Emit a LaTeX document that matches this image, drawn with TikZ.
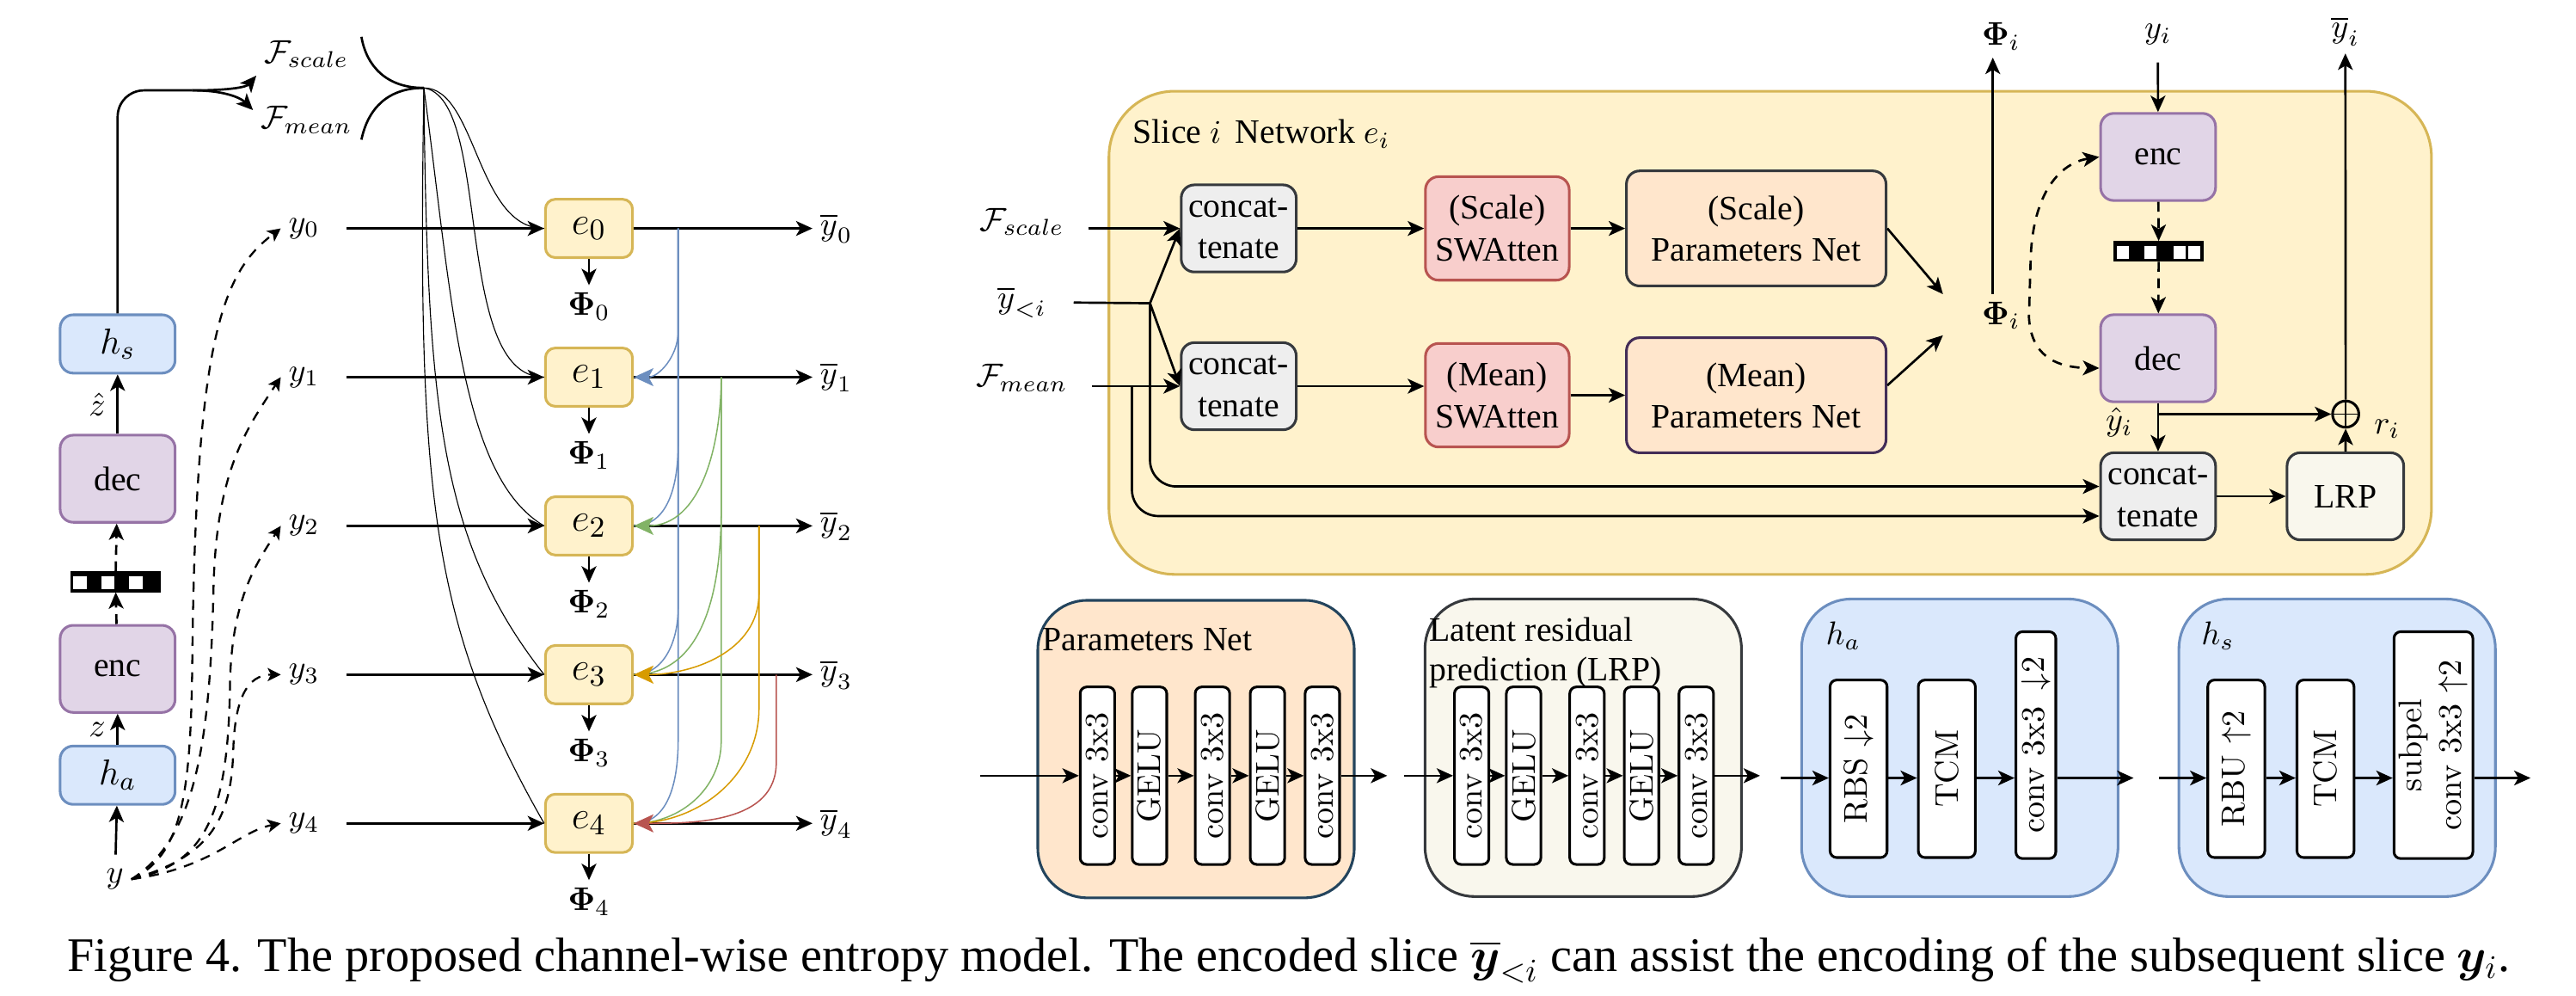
\documentclass[tikz,border=0pt]{standalone}
\usepackage{amsmath}
\usepackage{amssymb}
\usepackage{bm}
\usepackage{graphicx}
\usepackage{fontspec}
\newfontfamily\tnr{Liberation Serif}
\usepackage{tikz}
\usetikzlibrary{arrows.meta}
\usetikzlibrary{positioning}
\definecolor{yellowfill}{HTML}{FFF2CC}
\definecolor{yellowline}{HTML}{D6B656}
\definecolor{bluefill}{HTML}{DAE8FC}
\definecolor{blueline}{HTML}{6C8EBF}
\definecolor{purplefill}{HTML}{E1D5E7}
\definecolor{purpleline}{HTML}{9673A6}
\definecolor{grayfill}{HTML}{EEEEEE}
\definecolor{grayline}{HTML}{36393D}
\definecolor{redfill}{HTML}{F8CECC}
\definecolor{redline}{HTML}{B85450}
\definecolor{orangefill}{HTML}{FFE6CC}
\definecolor{orangeline}{HTML}{D79B00}
\definecolor{greenline}{HTML}{82B366}
\definecolor{darkpurple}{HTML}{432D57}
\definecolor{creamfill}{HTML}{F9F7ED}
\definecolor{slateline}{HTML}{23445D}
\tikzset{my_diagram/.style={x=0.5pt,y=0.5pt,line width=0.7pt,>={Stealth[length=5pt,width=4.5pt,inset=1.3pt]},font=\fontsize{10.4}{12.6}\selectfont}}
\tikzset{my_box/.style={draw, line width=0.8pt, rounded corners=4pt, align=center, inner sep=1pt, font=\tnr\fontsize{10.4}{12.6}\selectfont}}
\tikzset{my_slice/.style={my_box, draw=yellowline, fill=yellowfill, rounded corners=3pt, minimum width=26.5pt, minimum height=17.75pt, font=\fontsize{12.3}{14}\selectfont}}
\tikzset{my_hyper/.style={my_box, draw=blueline, fill=bluefill, minimum width=35pt, minimum height=17.75pt, font=\fontsize{11}{13}\selectfont}}
\tikzset{my_coder/.style={my_box, draw=purpleline, fill=purplefill, minimum width=35pt, minimum height=26.5pt}}
\tikzset{my_concat/.style={my_box, draw=grayline, fill=grayfill, minimum width=35pt, minimum height=26.5pt}}
\tikzset{my_atten/.style={my_box, draw=redline, fill=redfill, minimum width=43.75pt, minimum height=31.5pt}}
\tikzset{my_params/.style={my_box, draw=grayline, fill=orangefill, minimum width=79pt, minimum height=35pt}}
\tikzset{my_lrp/.style={my_box, draw=grayline, fill=creamfill, minimum width=35.5pt, minimum height=26.5pt}}
\tikzset{my_group/.style={draw, line width=0.8pt, rounded corners=15pt, inner sep=0pt, minimum width=96.3pt, minimum height=90.5pt}}
\tikzset{my_layer/.style={draw, line width=0.8pt, fill=white, rounded corners=2pt, inner sep=0pt, minimum width=10.5pt, minimum height=54pt, font=\fontsize{10}{12}\selectfont}}
\tikzset{my_bits/.style={draw, fill=black, line width=0.6pt, minimum width=27pt, minimum height=5.8pt, inner sep=0pt}}
\tikzset{my_label/.style={inner sep=2pt}}
\tikzset{my_title/.style={inner sep=0pt, font=\tnr\fontsize{10.4}{12}\selectfont}}
\tikzset{my_fan/.style={line width=0.3pt}}
\tikzset{my_dash/.style={->, line width=0.6pt, dash pattern=on 3pt off 2.5pt, >={Stealth[length=4pt,width=4pt,inset=1pt]}}}
\tikzset{my_skip/.style={line width=0.4pt}}
\tikzset{my_skip_tip/.style={my_skip, -{Stealth[length=6pt,width=5.5pt,inset=1.5pt]}}}
\tikzset{my_oplus/.style={circle, draw, line width=0.8pt, minimum size=8pt, inner sep=0pt,
    path picture={\draw[line width=0.4pt] (path picture bounding box.north) -- (path picture bounding box.south)
    (path picture bounding box.west) -- (path picture bounding box.east);}}}

\begin{document}
\begin{tikzpicture}[my_diagram]
    \useasboundingbox (0,0) rectangle (1568,606);

    % hyperprior
    \node[my_hyper] (ha) at (71.6,134.3) {$h_a$};
    \node[my_coder] (enc) at (71.6,199) {enc};
    \node[my_bits] (bits) at (70.3,252) {};
    \foreach \k in {1,9.5,18} \fill[white] ([xshift=\k pt,yshift=1pt]bits.south west) rectangle ++(4pt,3.8pt);
    \node[my_coder] (dec) at (71.6,314.7) {dec};
    \node[my_hyper] (hs) at (71.6,396.7) {$h_s$};
    \node[my_label] (y) at (70,71) {$y$};
    \node[my_label, anchor=west] (fsc0) at (156,573) {$\mathcal{F}_{scale}$};
    \node[my_label, anchor=west] (fmn0) at (154,533) {$\mathcal{F}_{mean}$};
    \coordinate (split) at (117,551);
    \coordinate (cusp) at (258,552.5);

    \path[->]
        (y) edge [shorten <=2pt] (ha)
        (ha) edge node [left] {$z$} (enc)
        (dec) edge node [left] {$\hat{z}$} (hs)
    ;
    \path[->, dash pattern=on 3pt off 2pt] (enc) edge (bits) (bits) edge (dec);
    \draw[rounded corners=8pt] (hs.north) |- (split);
    \draw[->] (split) .. controls (140,551) and (150,553) .. (fsc0.south west);
    \draw[->] (split) .. controls (140,551) and (148,545) .. ([yshift=3pt]fmn0.west);
    \draw (220,583.6) .. controls (223,566) and (235,552.5) .. (cusp);
    \draw (220,521) .. controls (224,540) and (236,552.5) .. (cusp);

    % slices
    \node[my_slice] (e0) at (358.5,467) {$e_0$};
    \node[my_slice] (e1) at (358.5,376.5) {$e_1$};
    \node[my_slice] (e2) at (358.5,286) {$e_2$};
    \node[my_slice] (e3) at (358.5,195.5) {$e_3$};
    \node[my_slice] (e4) at (358.5,105) {$e_4$};
    \node[my_label] (y0) at (185,467) {$y_0$};
    \node[my_label] (y1) at (185,376.5) {$y_1$};
    \node[my_label] (y2) at (185,286) {$y_2$};
    \node[my_label] (y3) at (185,195.5) {$y_3$};
    \node[my_label] (y4) at (185,105) {$y_4$};
    \node[my_label] (yb0) at (509,467) {$\overline{y}_0$};
    \node[my_label] (yb1) at (509,376.5) {$\overline{y}_1$};
    \node[my_label] (yb2) at (509,286) {$\overline{y}_2$};
    \node[my_label] (yb3) at (509,195.5) {$\overline{y}_3$};
    \node[my_label] (yb4) at (509,105) {$\overline{y}_4$};
    \node[my_label, below=8pt of e0] (phi0) {$\bm{\Phi}_0$};
    \node[my_label, below=8pt of e1] (phi1) {$\bm{\Phi}_1$};
    \node[my_label, below=8pt of e2] (phi2) {$\bm{\Phi}_2$};
    \node[my_label, below=8pt of e3] (phi3) {$\bm{\Phi}_3$};
    \node[my_label, below=8pt of e4] (phi4) {$\bm{\Phi}_4$};

    \draw[my_fan] (cusp) .. controls (290,552.5) and (290,467) .. (e0.west);
    \draw[my_fan] (cusp) .. controls (300,546) and (275,376.5) .. (e1.west);
    \draw[my_fan] (cusp) .. controls (275,426) and (280,316) .. (e2.west);
    \draw[my_fan] (cusp) .. controls (260,356) and (268,276) .. (e3.west);
    \draw[my_fan] (cusp) .. controls (254,306) and (262,226) .. (e4.west);

    \draw[my_dash] (y.east) .. controls (110,85) and (116,120) .. (117,200) .. controls (119,400) and (135,440) .. (y0.west);
    \draw[my_dash] (y.east) .. controls (118,95) and (128,150) .. (130,250) .. controls (132,320) and (150,345) .. (y1.west);
    \draw[my_dash] (y.east) .. controls (125,80) and (139,110) .. (140,190) .. controls (141,240) and (155,262) .. (y2.west);
    \draw[my_dash] (y.east) .. controls (130,85) and (141,110) .. (142,150) .. controls (143,180) and (150,195.5) .. (y3.west);
    \draw[my_dash] (y.east) .. controls (130,78) and (145,100) .. (y4.west);

    \path[->]
        (y0) edge [shorten <=6pt] (e0)
        (y1) edge [shorten <=6pt] (e1)
        (y2) edge [shorten <=6pt] (e2)
        (y3) edge [shorten <=6pt] (e3)
        (y4) edge [shorten <=6pt] (e4)
        (e0) edge (yb0) (e0) edge (phi0)
        (e1) edge (yb1) (e1) edge (phi1)
        (e2) edge (yb2) (e2) edge (phi2)
        (e3) edge (yb3) (e3) edge (phi3)
        (e4) edge (yb4) (e4) edge (phi4)
    ;

    % skip connections from earlier slices
    \coordinate (skip0) at (412.8,467);
    \coordinate (skip1) at (439,376.5);
    \coordinate (skip2) at (462,286);
    \coordinate (skip3) at (472.5,195.5);
    \draw[my_skip, blueline] (skip0) -- ++(0,-311) to[out=-90,in=0] (e4.east);
    \draw[my_skip, blueline] (skip0) -- ++(0,-231) to[out=-90,in=0] (e3.east);
    \draw[my_skip, blueline] (skip0) -- ++(0,-131) to[out=-90,in=0] (e2.east);
    \draw[my_skip_tip, blueline] (skip0) -- ++(0,-62.6) to[out=-90,in=0] (e1.east);
    \draw[my_skip, greenline] (skip1) -- ++(0,-221.5) to[out=-90,in=0] (e4.east);
    \draw[my_skip, greenline] (skip1) -- ++(0,-80.5) to[out=-90,in=0] (e3.east);
    \draw[my_skip_tip, greenline] (skip1) to[out=-90,in=0] (e2.east);
    \draw[my_skip, orangeline] (skip2) -- ++(0,-111) to[out=-90,in=0] (e4.east);
    \draw[my_skip_tip, orangeline] (skip2) -- ++(0,-41) to[out=-90,in=0] (e3.east);
    \draw[my_skip_tip, redline] (skip3) -- ++(0,-53.5) to[out=-90,in=0] (e4.east);

    % slice network e_i
    \node[draw=yellowline, fill=yellowfill, line width=0.8pt, rounded corners=20pt, minimum width=402.5pt, minimum height=147pt] (slice) at (1077.5,403.5) {};
    \node[my_title, anchor=base west] (stitle) at (689,518.6) {Slice $i$\, Network $e_i$};
    \node[my_label] (fsc) at (622,471) {$\mathcal{F}_{scale}$};
    \node[my_label] (ylt) at (622,422) {$\overline{y}_{<i}$};
    \node[my_label] (fmn) at (622,376) {$\mathcal{F}_{mean}$};
    \node[my_concat] (cc1) at (754,467) {concat-\\tenate};
    \node[my_concat] (cc2) at (754,371) {concat-\\tenate};
    \node[my_atten] (sw1) at (911.4,467) {(Scale)\\SWAtten};
    \node[my_atten] (sw2) at (911.4,365.5) {(Mean)\\SWAtten};
    \node[my_params] (pn1) at (1069,467) {(Scale)\\Parameters Net};
    \node[my_params, draw=darkpurple] (pn2) at (1069,365.5) {(Mean)\\Parameters Net};
    \node[my_label] (phim) at (1218,414) {$\bm{\Phi}_i$};
    \node[my_label] (phit) at (1218,584) {$\bm{\Phi}_i$};
    \node[my_label] (yit) at (1313.5,585) {$y_i$};
    \node[my_coder] (enc2) at (1313.6,510.5) {enc};
    \node[my_bits, minimum height=5.75pt] (bits2) at (1314,453) {};
    \foreach \k in {1,9.3,18.3,22.8} \fill[white] ([xshift=\k pt,yshift=1pt]bits2.south west) rectangle ++(3.7pt,3.75pt);
    \node[my_coder] (dec2) at (1313.6,388) {dec};
    \node[my_concat] (cc3) at (1313.6,304) {concat-\\tenate};
    \node[my_lrp] (lrp) at (1427.6,304) {LRP};
    \node[my_oplus] (plus) at (1427.8,354) {};
    \node[my_label] (ybi) at (1427.6,587) {$\overline{y}_i$};
    \node[my_label] (yhat) at (1290,349) {$\hat{y}_i$};
    \node[my_label] (ri) at (1453,345) {$r_i$};
    \coordinate (ysplit) at (700,421.5);
    \coordinate (fsplit) at (689,371);

    \draw[->, shorten <=5pt] (fsc.east |- cc1) -- (cc1.west);
    \draw[->, shorten <=5pt] (fmn.east |- cc2) -- (cc2.west);
    \draw[shorten <=6pt] (ylt.east) -- (ysplit);
    \draw[->] (ysplit) -- (cc1.west);
    \draw[->] (ysplit) -- (cc2.west);
    \draw[->, rounded corners=8pt] (ysplit) |- ([yshift=3pt]cc3.west);
    \draw[->, rounded corners=8pt] (fsplit) |- ([yshift=-6pt]cc3.west);
    \draw[->] (cc2) -- (cc2 -| sw2.west);
    \path[->]
        (cc1) edge (sw1)
        (sw1) edge (pn1)
        (sw2) edge (pn2)
        (yit) edge [shorten <=3pt] (enc2)
        (dec2) edge (cc3)
        (cc3) edge (lrp)
        (lrp) edge (plus)
        (plus) edge (ybi)
    ;
    \path[->, dash pattern=on 3pt off 2pt] (enc2) edge (bits2) (bits2) edge (dec2);
    \draw[->] (pn1.east) -- ([shift={(-9.5pt,6.5pt)}]phim.west);
    \draw[->] ([yshift=3pt]pn2.east) -- ([shift={(-9.5pt,-6pt)}]phim.west);
    \draw[->] ([xshift=-2.5pt]phim.north) -- ([xshift=-2.5pt]phit.south);
    \draw[->] (dec2.south |- plus) -- (plus);
    \draw[<->, dash pattern=on 3pt off 2.5pt] (enc2.west) .. controls (1255,507) and (1237,490) .. (1236,447)
        -- (1235,413) .. controls (1236,395) and (1245,382.4) .. ([yshift=-3pt]dec2.west);

    % parameters net
    \node[my_group, draw=slateline, fill=orangefill] (pgroup) at (728,150.2) {};
    \node[my_title, anchor=base west] (ptitle) at (634,210) {Parameters Net};
    \node[my_layer] (pc1) at (668,134) {\rotatebox{90}{conv 3x3}};
    \node[my_layer] (pg1) at (699.7,134) {\rotatebox{90}{GELU}};
    \node[my_layer] (pc2) at (738,134) {\rotatebox{90}{conv 3x3}};
    \node[my_layer] (pg2) at (771.5,134) {\rotatebox{90}{GELU}};
    \node[my_layer] (pc3) at (804.9,134) {\rotatebox{90}{conv 3x3}};
    \coordinate (pin) at (596.4,134);
    \coordinate (pout) at (844.4,134);
    \path[->] (pin) edge (pc1) (pc1) edge (pg1) (pg1) edge (pc2) (pc2) edge (pg2) (pg2) edge (pc3) (pc3) edge (pout);

    % latent residual prediction
    \node[my_group, draw=grayline, fill=creamfill] (lgroup) at (963.7,151) {};
    \node[my_title, anchor=north west, align=left] (ltitle) at (869.3,231) {Latent residual\\prediction (LRP)};
    \node[my_layer] (lc1) at (895.8,134) {\rotatebox{90}{conv 3x3}};
    \node[my_layer] (lg1) at (927.4,134) {\rotatebox{90}{GELU}};
    \node[my_layer] (lc2) at (966,134) {\rotatebox{90}{conv 3x3}};
    \node[my_layer] (lg2) at (999.2,134) {\rotatebox{90}{GELU}};
    \node[my_layer] (lc3) at (1032.5,134) {\rotatebox{90}{conv 3x3}};
    \coordinate (lin) at (854.4,134);
    \coordinate (lout) at (1071.3,134);
    \path[->] (lin) edge (lc1) (lc1) edge (lg1) (lg1) edge (lc2) (lc2) edge (lg2) (lg2) edge (lc3) (lc3) edge (lout);

    % h_a
    \node[my_group, draw=blueline, fill=bluefill] (agroup) at (1192.9,151) {};
    \node[my_label] (hatitle) at (1122,219) {$h_a$};
    \node[my_layer, minimum width=17.35pt] (rbs) at (1131.3,138.2) {\rotatebox{90}{RBS $\downarrow$2}};
    \node[my_layer, minimum width=17.35pt] (tcm1) at (1185,138.2) {\rotatebox{90}{TCM}};
    \node[my_layer, minimum width=12.15pt, minimum height=69pt] (aconv) at (1239.2,152.6) {\rotatebox{90}{conv 3x3\enspace$\downarrow$2}};
    \coordinate (ain) at (1084,132.6);
    \coordinate (aout) at (1298.7,132.6);
    \draw[->] (ain) -- (ain -| rbs.west);
    \draw[->] (ain -| rbs.east) -- (ain -| tcm1.west);
    \draw[->] (ain -| tcm1.east) -- (ain -| aconv.west);
    \draw[->] (ain -| aconv.east) -- (aout);

    % h_s
    \node[my_group, draw=blueline, fill=bluefill] (sgroup) at (1422.6,151) {};
    \node[my_label] (hstitle) at (1350,219) {$h_s$};
    \node[my_layer, minimum width=17.35pt] (rbu) at (1361.2,138.2) {\rotatebox{90}{RBU $\uparrow$2}};
    \node[my_layer, minimum width=17.35pt] (tcm2) at (1415.5,138.2) {\rotatebox{90}{TCM}};
    \node[my_layer, minimum width=23.7pt, minimum height=69pt] (sconv) at (1481.2,152.6) {\rotatebox{90}{\begin{tabular}{@{}c@{}}subpel\\conv 3x3 $\uparrow$2\end{tabular}}};
    \coordinate (sin) at (1314.4,132.6);
    \coordinate (sout) at (1540.3,132.6);
    \draw[->] (sin) -- (sin -| rbu.west);
    \draw[->] (sin -| rbu.east) -- (sin -| tcm2.west);
    \draw[->] (sin -| tcm2.east) -- (sin -| sconv.west);
    \draw[->] (sin -| sconv.east) -- (sout);

    \node[anchor=base, font=\tnr\fontsize{14.7}{17}\selectfont] (caption) at (784.5,15) {Figure 4. The proposed channel-wise entropy model. The encoded slice $\overline{\bm{y}}_{<i}$ can assist the encoding of the subsequent slice $\bm{y}_i$.};
\end{tikzpicture}
\end{document}
